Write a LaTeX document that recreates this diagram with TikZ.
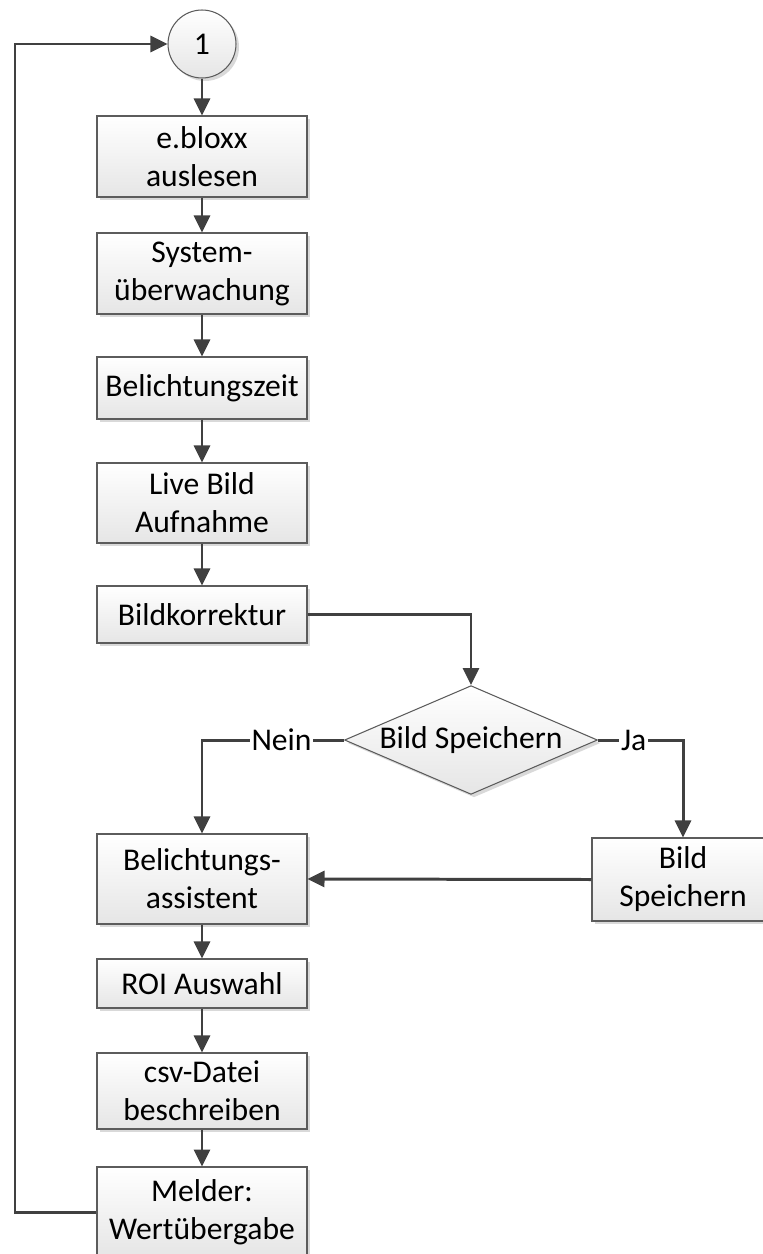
\documentclass[tikz,border=0pt]{standalone}
\usepackage{fontspec}
\setmainfont{Carlito}
\usetikzlibrary{arrows.meta,shapes.geometric,shadows}

\definecolor{linie}{HTML}{404040}
\definecolor{rand}{HTML}{5C5C5C}

\tikzset{
  schritt/.style={draw=rand, line width=0.6pt, rectangle, align=center,
    minimum width=4.2cm, inner sep=2pt,
    top color=white, bottom color=black!10,
    drop shadow={shadow xshift=0.06cm, shadow yshift=-0.06cm, fill=black!15, opacity=1}},
  entscheid/.style={draw=rand, line width=0.6pt, diamond, aspect=2.24, inner sep=0pt,
    minimum width=5.06cm,
    top color=white, bottom color=black!10,
    drop shadow={shadow xshift=0.06cm, shadow yshift=-0.06cm, fill=black!15, opacity=1}},
  marke/.style={draw=rand, line width=0.6pt, circle, minimum size=1.36cm, inner sep=0pt,
    top color=white, bottom color=black!10,
    drop shadow={shadow xshift=0.06cm, shadow yshift=-0.06cm, fill=black!15, opacity=1}},
  pfeil/.style={draw=linie, line width=1.7pt, -{Triangle[length=0.34cm, width=0.32cm]}},
  beschr/.style={fill=white, inner sep=1pt}
}

\begin{document}
\begin{tikzpicture}[x=0.02cm, y=-0.02cm, font=\fontsize{18}{21.6}\selectfont]
	%%%%% START %%%%%
	\useasboundingbox (0,0) rectangle (763,1254);
	
	\node[marke] (eins) at (202,44) {1};
	
	\node[schritt, minimum height=1.62cm] (bloxx) at (202,156.5) {e.bloxx\\auslesen};
	\node[schritt, minimum height=1.62cm] (system) at (202,273.5) {System-\\überwachung};
	\node[schritt, minimum height=1.24cm] (zeit) at (202,388) {Belichtungszeit};
	\node[schritt, minimum height=1.6cm] (live) at (202,503) {Live Bild\\Aufnahme};
	\node[schritt, minimum height=1.14cm] (korr) at (202,614.5) {Bildkorrektur};
	
	\node[entscheid] (frage) at (471,740) {Bild Speichern};
	
	\node[schritt, minimum height=1.8cm] (assist) at (202,879) {Belichtungs-\\assistent};
	\node[schritt, minimum width=3.64cm, minimum height=1.66cm] (speichern) at (683,879.5) {Bild\\Speichern};
	
	\node[schritt, minimum height=0.98cm] (roi) at (202,983.5) {ROI Auswahl};
	\node[schritt, minimum height=1.52cm] (csv) at (202,1091) {csv-Datei\\beschreiben};
	\node[schritt, minimum height=1.8cm] (melder) at (202,1212) {Melder:\\Wertübergabe};
	
	\coordinate (links) at (15,44);
	
	\draw[pfeil] (eins) -- (bloxx);
	\draw[pfeil] (bloxx) -- (system);
	\draw[pfeil] (system) -- (zeit);
	\draw[pfeil] (zeit) -- (live);
	\draw[pfeil] (live) -- (korr);
	\draw[pfeil] (korr.east) -| (frage.north);
	
	\draw[pfeil] (frage.west) -| node[beschr, pos=0.22] {Nein} (assist.north);
	\draw[pfeil] (frage.east) -| node[beschr, pos=0.21] {Ja} (speichern.north);
	\draw[pfeil] (speichern.west) -- (assist.east);
	
	\draw[pfeil] (assist) -- (roi);
	\draw[pfeil] (roi) -- (csv);
	\draw[pfeil] (csv) -- (melder);
	\draw[pfeil] (melder.west) -| (links) -- (eins.west);
	%%%%% END %%%%%
\end{tikzpicture}
\end{document}
